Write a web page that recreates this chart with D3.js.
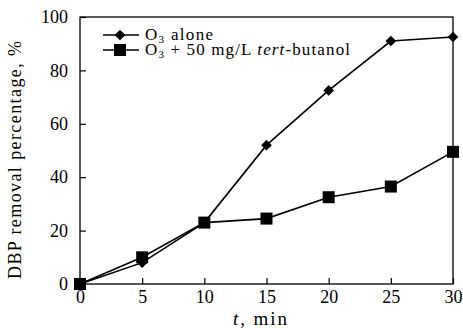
<!DOCTYPE html>
<html><head><meta charset="utf-8">
<script src="https://cdn.jsdelivr.net/npm/d3@7"></script>
<style>body{margin:0;background:#fff}svg{display:block}text{font-family:"Liberation Serif","Times New Roman",serif;fill:#000}</style>
</head><body>
<svg id="c" width="463" height="328"></svg>
<script>
const times = [0, 5, 10, 15, 20, 25, 30];
const o3Alone = [0, 8, 23, 52, 72.5, 91, 92.5];
const o3Tba = [0, 10, 23, 24.5, 32.5, 36.5, 49.5];
const xTicks = [0, 5, 10, 15, 20, 25, 30];
const yTicks = [0, 20, 40, 60, 80, 100];

const svg = d3.select("#c");
const L = 80, R = 453, T = 17, B = 284;
const x = d3.scaleLinear().domain([0, 30]).range([L, R]);
const y = d3.scaleLinear().domain([0, 100]).range([B, T]);

svg.append("rect").attr("x", L).attr("y", T).attr("width", R - L).attr("height", B - T)
  .attr("fill", "none").attr("stroke", "#000").attr("stroke-width", 1.3);

const xa = svg.append("g").attr("transform", `translate(0,${B})`)
  .call(d3.axisBottom(x).tickValues(xTicks).tickSize(-6).tickPadding(6).tickFormat(d3.format("d")));
const ya = svg.append("g").attr("transform", `translate(${L},0)`)
  .call(d3.axisLeft(y).tickValues(yTicks).tickSize(-6).tickPadding(12).tickFormat(d3.format("d")));
[xa, ya].forEach(a => {
  a.select(".domain").remove();
  a.selectAll("line").attr("stroke", "#000").attr("stroke-width", 1.2);
  a.selectAll("text").attr("font-size", 18).style("font-family", '"Liberation Serif",serif');
});

const line = d3.line().x((d, i) => x(times[i])).y(d => y(d));
svg.append("path").datum(o3Alone).attr("d", line).attr("fill", "none").attr("stroke", "#000").attr("stroke-width", 1.6);
svg.append("path").datum(o3Tba).attr("d", line).attr("fill", "none").attr("stroke", "#000").attr("stroke-width", 1.6);

const diamond = d3.symbol().type(d3.symbolDiamond2).size(72);
const sq = 12;
svg.append("g").selectAll("path").data(o3Alone).join("path")
  .attr("d", diamond).attr("transform", (d, i) => `translate(${x(times[i])},${y(d)})`).attr("fill", "#000");
svg.append("g").selectAll("rect").data(o3Tba).join("rect")
  .attr("x", (d, i) => x(times[i]) - sq / 2).attr("y", d => y(d) - sq / 2)
  .attr("width", sq).attr("height", sq).attr("fill", "#000");

// legend
const lg = svg.append("g");
[[35, "d"], [50, "s"]].forEach(([ly, t]) => {
  lg.append("line").attr("x1", 103).attr("x2", 139).attr("y1", ly).attr("y2", ly).attr("stroke", "#000").attr("stroke-width", 1.6);
  if (t === "d") lg.append("path").attr("d", diamond).attr("transform", `translate(120,${ly})`).attr("fill", "#000");
  else lg.append("rect").attr("x", 120 - sq / 2).attr("y", ly - sq / 2).attr("width", sq).attr("height", sq).attr("fill", "#000");
});
const t1 = lg.append("text").attr("x", 145).attr("y", 40).attr("font-size", 17)
  .attr("textLength", 68).attr("lengthAdjust", "spacing");
t1.append("tspan").text("O");
t1.append("tspan").text("3").attr("font-size", 11).attr("dy", 3);
t1.append("tspan").text(" alone").attr("dy", -3);
const t2 = lg.append("text").attr("x", 145).attr("y", 55).attr("font-size", 17)
  .attr("textLength", 205).attr("lengthAdjust", "spacing");
t2.append("tspan").text("O");
t2.append("tspan").text("3").attr("font-size", 11).attr("dy", 3);
t2.append("tspan").text(" + 50 mg/L ").attr("dy", -3);
t2.append("tspan").text("tert").attr("font-style", "italic");
t2.append("tspan").text("-butanol");

// axis titles
const xt = svg.append("text").attr("x", 233).attr("y", 325).attr("font-size", 19)
  .attr("textLength", 54).attr("lengthAdjust", "spacing");
xt.append("tspan").text("t").attr("font-style", "italic");
xt.append("tspan").text(", min");
svg.append("text").attr("transform", `translate(21,160) rotate(-90)`)
  .attr("text-anchor", "middle").attr("font-size", 18)
  .attr("textLength", 238).attr("lengthAdjust", "spacing")
  .text("DBP removal percentage, %");
</script>
</body></html>
